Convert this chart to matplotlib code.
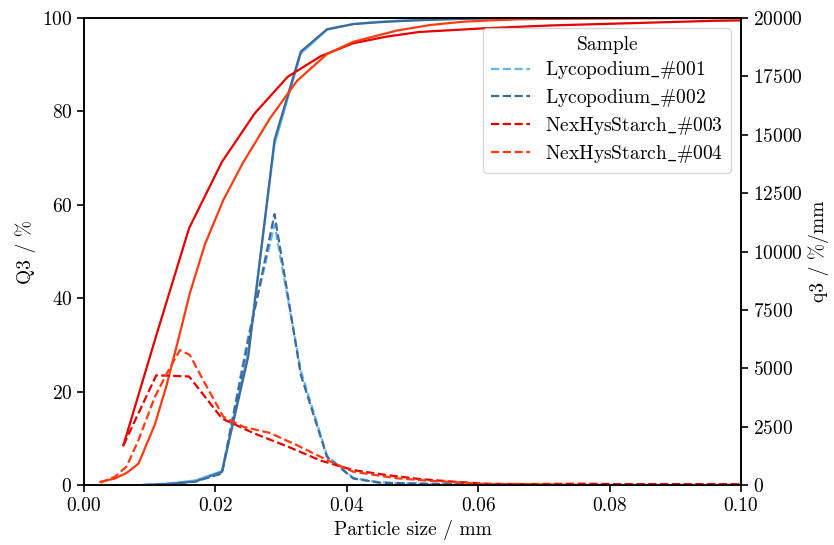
import matplotlib
matplotlib.use("Agg")
import matplotlib.pyplot as plt

plt.rcParams['font.family'] = 'serif'
plt.rcParams['font.serif'] = ['cmr10']
plt.rcParams['mathtext.fontset'] = 'cm'
plt.rcParams['axes.formatter.use_mathtext'] = True
plt.rcParams['font.size'] = 14
plt.rcParams['axes.unicode_minus'] = False

# particle size grids (mm)
x_lyco = [0.009, 0.013, 0.017, 0.021, 0.025, 0.029, 0.033, 0.037, 0.041, 0.045,
          0.049, 0.053, 0.057, 0.061, 0.065, 0.069, 0.073, 0.077, 0.081, 0.085,
          0.089, 0.093, 0.097, 0.101]
x_nex3 = [0.006, 0.011, 0.016, 0.021, 0.026, 0.031, 0.036, 0.041, 0.046, 0.051,
          0.056, 0.061, 0.066, 0.071, 0.076, 0.081, 0.086, 0.091, 0.096, 0.101]
x_nex4 = [0.0025, 0.0047, 0.0065, 0.0083, 0.0108, 0.0126, 0.0146, 0.0161, 0.0184,
          0.0212, 0.0242, 0.0283, 0.0324, 0.037, 0.041, 0.0476, 0.0527, 0.0577,
          0.062, 0.066, 0.07, 0.08, 0.09, 0.1]

# cumulative distribution Q3 (%)
Q3_lyco1 = [0, 0.3, 1.0, 3.0, 28.5, 73.0, 92.4, 97.5, 98.7, 99.2, 99.5, 99.7,
            99.8, 99.9, 100, 100, 100, 100, 100, 100, 100, 100, 100, 100]
Q3_lyco2 = [0, 0.2, 0.8, 2.8, 27.5, 73.9, 92.8, 97.6, 98.7, 99.1, 99.4, 99.6,
            99.8, 99.9, 100, 100, 100, 100, 100, 100, 100, 100, 100, 100]
Q3_nex3 = [8.5, 32.0, 55.0, 69.2, 79.6, 87.4, 91.8, 94.6, 96.0, 97.0, 97.4, 97.8,
           98.1, 98.4, 98.6, 98.8, 99.0, 99.2, 99.4, 99.5]
Q3_nex4 = [0.7, 1.4, 2.6, 4.6, 13.0, 21.5, 32.5, 41.0, 51.5, 61.0, 69.0, 78.5,
           86.5, 92.3, 94.9, 97.3, 98.5, 99.2, 99.5, 99.7, 99.8, 99.9, 100, 100]

# density distribution q3 (%/mm)
q3_lyco1 = [0, 70, 180, 500, 6380, 11150, 4900, 1250, 300, 120, 75, 50,
            25, 25, 25, 0, 0, 0, 0, 0, 0, 0, 0, 0]
q3_lyco2 = [0, 50, 150, 500, 6180, 11600, 4720, 1200, 280, 100, 75, 50,
            50, 25, 0, 0, 0, 0, 0, 0, 0, 0, 0, 0]
q3_nex3 = [1700, 4700, 4650, 2850, 2200, 1650, 1050, 640, 430, 260, 150, 60,
           40, 50, 60, 40, 40, 40, 40, 40]
q3_nex4 = [100, 355, 800, 1930, 3780, 4780, 5780, 5570, 4360, 2930, 2500, 2230,
           1710, 1070, 570, 290, 180, 100, 30, 50, 20, 0, 0, 0]

labels = [r'$\mathrm{Lycopodium\_\#001}$', r'$\mathrm{Lycopodium\_\#002}$',
          r'$\mathrm{NexHysStarch\_\#003}$', r'$\mathrm{NexHysStarch\_\#004}$']
colors = ['#64b4f4', '#3b6a9b', '#e60000', '#ff3b0f']

fig = plt.figure(figsize=(8.34, 5.45), dpi=100)
ax = fig.add_axes([0.1007, 0.110, 0.7878, 0.857])
ax2 = ax.twinx()

xs = [x_lyco, x_lyco, x_nex3, x_nex4]
Qs = [Q3_lyco1, Q3_lyco2, Q3_nex3, Q3_nex4]
qs = [q3_lyco1, q3_lyco2, q3_nex3, q3_nex4]

for x, Q, c in zip(xs, Qs, colors):
    ax.plot(x, Q, color=c, lw=1.6)
for x, q, c, lab in zip(xs, qs, colors, labels):
    ax2.plot(x, q, color=c, lw=1.6, ls='--', label=lab)

ax.set_xlim(0, 0.1)
ax.set_ylim(0, 100)
ax2.set_ylim(0, 20000)
ax.set_xticks([0, 0.02, 0.04, 0.06, 0.08, 0.1])
ax.set_xticklabels(['0.00', '0.02', '0.04', '0.06', '0.08', '0.10'])
ax.set_yticks([0, 20, 40, 60, 80, 100])
ax2.set_yticks(range(0, 20001, 2500))

ax.set_xlabel('Particle size / mm')
ax.set_ylabel('Q3 / %')
ax2.set_ylabel('q3 / %/mm')

for a in (ax, ax2):
    for s in a.spines.values():
        s.set_linewidth(1.2)
    a.tick_params(width=1.2, length=5)

leg = ax2.legend(title='Sample', loc='upper right', fontsize=14,
                 title_fontsize=14, bbox_to_anchor=(0.985, 0.979),
                 borderaxespad=0, labelspacing=0.3)

fig.savefig('out.png', dpi=100)
